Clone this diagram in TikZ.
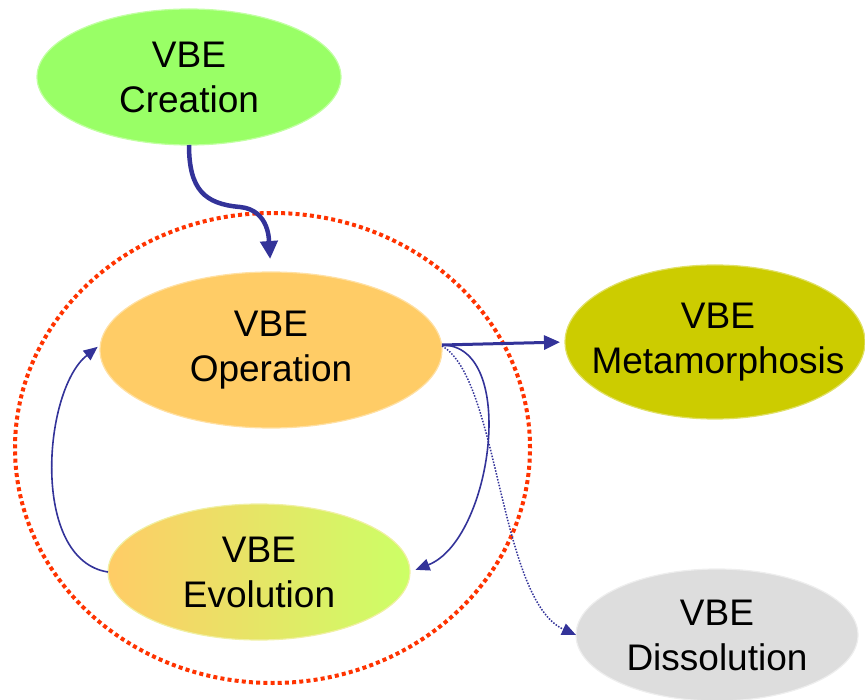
\documentclass[tikz,border=0pt]{standalone}
\usepackage{fontspec}
\setmainfont{Liberation Sans}
\usetikzlibrary{shapes.geometric,arrows.meta}
\definecolor{arrowblue}{HTML}{333399}
\definecolor{ringred}{HTML}{FF3300}
\definecolor{cgreen}{HTML}{99FF66}
\definecolor{corange}{HTML}{FFCC66}
\definecolor{clime}{HTML}{CCFF66}
\definecolor{colive}{HTML}{CCCC00}
\definecolor{cgray}{HTML}{DDDDDD}
\tikzset{
  blob/.style={ellipse, inner sep=0pt, outer sep=0pt},
  lbl/.style={align=center, inner sep=0pt, font=\fontsize{37pt}{45pt}\selectfont, text=black},
  bigarrow/.style={draw=arrowblue, line width=4.5pt, -{Triangle[length=18pt,width=17pt]}},
  midarrow/.style={draw=arrowblue, line width=3pt, -{Triangle[length=16pt,width=14pt]}},
  thinarrow/.style={draw=arrowblue, line width=1.6pt, -{Triangle[length=14pt,width=12pt]}},
  dotarrow/.style={draw=arrowblue, line width=1.5pt, dash pattern=on 1.5pt off 1.5pt, -{Triangle[length=14pt,width=12pt]}},
}
\begin{document}
\begin{tikzpicture}[x=1pt,y=-1pt]
\useasboundingbox (0,0) rectangle (865,700);
% red dotted ring
\node[blob, draw=ringred, line width=4pt, dash pattern=on 4pt off 3.2pt,
      minimum width=515pt, minimum height=470pt] (ring) at (272.5,448) {};
% ellipses
\node[blob, fill=cgreen, draw=cgreen!60!white, line width=1.2pt,
      minimum width=304pt, minimum height=136pt] (cre) at (189,77) {};
\node[lbl] (cret) at (cre) {VBE\\Creation};
\node[blob, fill=corange, draw=corange!60!white, line width=1.2pt,
      minimum width=342pt, minimum height=156pt] (op) at (271,350) {};
\node[lbl] (opt) at (op) {VBE\\Operation};
\node[blob, left color=corange, right color=clime, draw=corange!50!clime!60!white, line width=1.2pt,
      minimum width=302pt, minimum height=136pt] (evo) at (259,572) {};
\node[lbl] (evot) at (evo) {VBE\\Evolution};
\node[blob, fill=colive, draw=colive!60!white, line width=1.2pt,
      minimum width=300pt, minimum height=154pt] (meta) at (715,342) {};
\node[lbl] (metat) at ([xshift=3pt]meta) {VBE\\Metamorphosis};
\node[blob, fill=cgray, draw=cgray!50!white, line width=1.2pt,
      minimum width=282pt, minimum height=132pt] (dis) at (717,635) {};
\node[lbl] (dist) at (dis) {VBE\\Dissolution};
% connectors
\draw[bigarrow, shorten >=13pt] (cre.south) .. controls +(0,45) and +(-35,-3) .. (240,207)
  .. controls +(30,3) and +(-2,-30) .. (op.north);
\draw[midarrow, shorten >=5pt] ([yshift=5pt]op.east) -- (meta.west);
\draw[thinarrow, shorten >=6pt] ([yshift=5pt]op.east) .. controls +(77,0) and +(82,-32) .. (evo.east);
\draw[dotarrow] ([yshift=4pt]op.east) .. controls +(57,32) and +(-77,-35) .. (dis.west);
\draw[thinarrow, shorten >=3pt] (evo.west) .. controls +(-78,-12) and +(-57,45) .. ([yshift=5pt]op.west);
\end{tikzpicture}
\end{document}
